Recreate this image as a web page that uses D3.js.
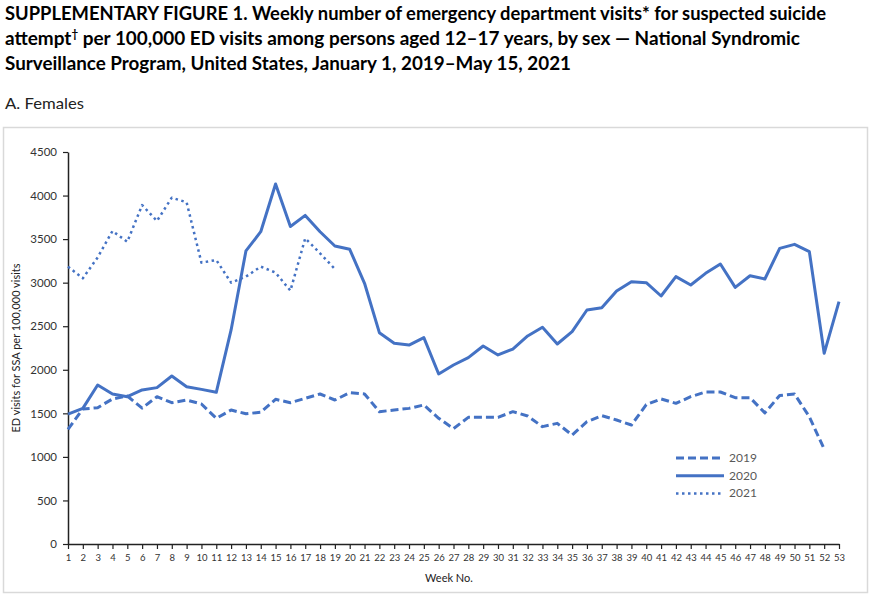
<!DOCTYPE html>
<html><head><meta charset="utf-8">
<script src="https://cdn.jsdelivr.net/npm/d3@7"></script>
<style>
body{margin:0;background:#fff;}
svg{display:block;font-family:Lato,"Open Sans",sans-serif;}
</style></head>
<body><svg id="c" width="872" height="595"></svg>
<script>
const weeks = d3.range(1, 54);
const yTicks = [0,500,1000,1500,2000,2500,3000,3500,4000,4500];
const series2019 = [1316,1550,1565,1665,1699,1560,1691,1622,1653,1607,1443,1538,1495,1512,1661,1622,1672,1722,1653,1737,1722,1519,1538,1557,1596,1443,1325,1454,1454,1454,1519,1470,1347,1385,1251,1404,1473,1423,1366,1600,1665,1615,1691,1745,1745,1680,1680,1505,1705,1722,1460,1090];
const series2020 = [1492,1557,1825,1722,1691,1768,1795,1929,1806,1775,1741,2457,3364,3585,4133,3645,3772,3585,3421,3383,2993,2426,2304,2284,2369,1952,2055,2139,2273,2170,2238,2388,2488,2296,2438,2686,2713,2904,3011,3000,2847,3069,2973,3107,3214,2946,3080,3042,3394,3440,3356,2189,2782];
const series2021 = [3184,3050,3290,3593,3470,3891,3708,3976,3922,3230,3260,3000,3069,3184,3115,2908,3509,3337,3157];
const seriesNames = ["2019","2020","2021"];
const titleLines = [
  "SUPPLEMENTARY FIGURE 1. Weekly number of emergency department visits* for suspected suicide",
  "attempt\u2020 per 100,000 ED visits among persons aged 12\u201317 years, by sex \u2014 National Syndromic",
  "Surveillance Program, United States, January 1, 2019\u2013May 15, 2021"
];

const svg = d3.select("#c");
const color = "#4472C4";

// titles
svg.append("text").attr("x",5).attr("y",20).attr("font-size",18).attr("font-weight","bold")
  .attr("textLength",821).attr("lengthAdjust","spacingAndGlyphs").text(titleLines[0]);
const t2 = svg.append("text").attr("x",5).attr("y",45).attr("font-size",18).attr("font-weight","bold")
  .attr("textLength",795).attr("lengthAdjust","spacingAndGlyphs");
t2.append("tspan").text("attempt");
t2.append("tspan").attr("font-size",11).attr("dy",-7).text("\u2020");
t2.append("tspan").attr("dy",7).text(" per 100,000 ED visits among persons aged 12\u201317 years, by sex \u2014 National Syndromic");
svg.append("text").attr("x",5).attr("y",70).attr("font-size",18).attr("font-weight","bold")
  .attr("textLength",566).attr("lengthAdjust","spacingAndGlyphs").text(titleLines[2]);
svg.append("text").attr("x",5).attr("y",109).attr("font-size",15).attr("fill","#222")
  .attr("textLength",79).attr("lengthAdjust","spacingAndGlyphs").text("A. Females");

// chart border
svg.append("rect").attr("x",3.5).attr("y",127.5).attr("width",864).attr("height",465)
  .attr("fill","none").attr("stroke","#d9d9d9").attr("stroke-width",1.5);

const x = d3.scaleLinear().domain([1,53]).range([68,839]);
const y = d3.scaleLinear().domain([0,4500]).range([544,152]);

// y axis
const ya = svg.append("g").attr("transform","translate(68,0)")
  .call(d3.axisLeft(y).tickValues(yTicks).tickFormat(d3.format("d")).tickSize(5).tickSizeOuter(0).tickPadding(6));
ya.select(".domain").attr("stroke","#222").attr("stroke-width",1.5);
ya.selectAll(".tick line").attr("stroke","#222").attr("stroke-width",1.2);
ya.selectAll("text").attr("font-size",11.5).attr("fill","#333").attr("font-family","Lato");

// x axis
const xa = svg.append("g").attr("transform","translate(0,544)")
  .call(d3.axisBottom(x).tickValues(weeks).tickFormat(d3.format("d")).tickSize(5).tickSizeOuter(0).tickPadding(5));
xa.select(".domain").attr("stroke","#222").attr("stroke-width",1.5);
xa.selectAll(".tick line").attr("stroke","#222").attr("stroke-width",1.2);
xa.selectAll("text").attr("font-size",9.5).attr("fill","#333").attr("font-family","Lato");

svg.append("text").attr("x",449).attr("y",582).attr("text-anchor","middle").attr("font-size",11).attr("fill","#222").text("Week No.");
svg.append("text").attr("transform","translate(20,348) rotate(-90)").attr("text-anchor","middle")
  .attr("font-size",11).attr("fill","#222").text("ED visits for SSA per 100,000 visits");

const line = d3.line().x((d,i)=>x(i+1)).y(d=>y(d));
const styles = [
  {data:series2019, w:3, dash:"8,4", cap:"butt"},
  {data:series2020, w:3, dash:null, cap:"butt"},
  {data:series2021, w:2.5, dash:"2.5,3.5", cap:"butt"}
];
styles.forEach(s=>{
  svg.append("path").datum(s.data).attr("d",line).attr("fill","none").attr("stroke",color)
    .attr("stroke-width",s.w).attr("stroke-dasharray",s.dash).attr("stroke-linejoin","round").attr("stroke-linecap",s.cap);
});

// legend
const lg = svg.append("g");
seriesNames.forEach((n,i)=>{
  const yy = 458 + i*17.7;
  lg.append("line").attr("x1",676).attr("x2",724).attr("y1",yy).attr("y2",yy)
    .attr("stroke",color).attr("stroke-width",styles[i].w).attr("stroke-dasharray",styles[i].dash);
  lg.append("text").attr("x",729).attr("y",yy+4).attr("font-size",12).attr("fill","#595959").text(n);
});
</script></body></html>
